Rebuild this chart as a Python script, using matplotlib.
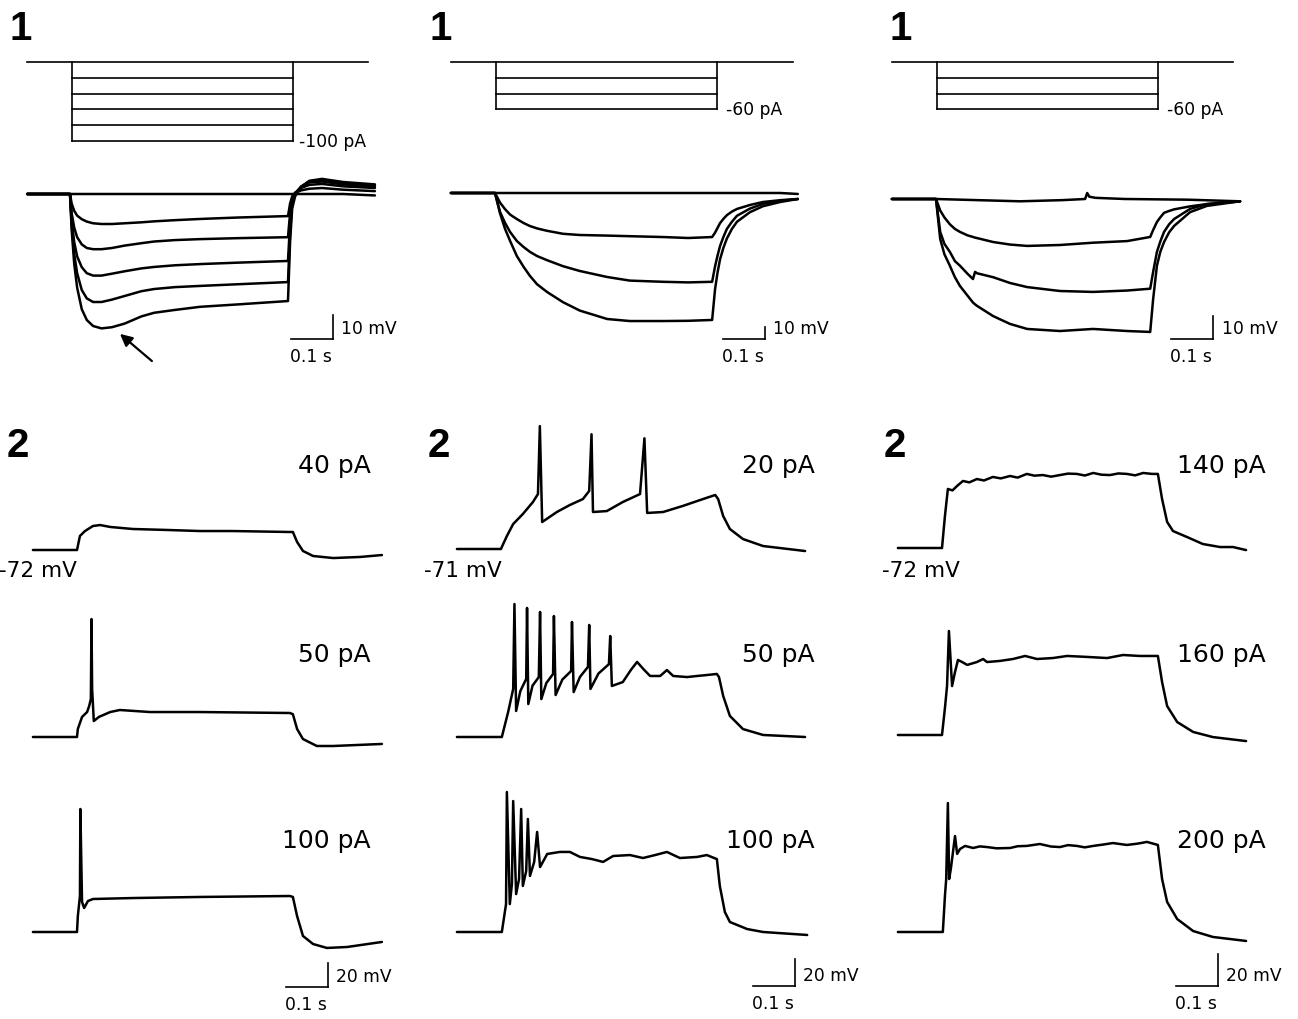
import matplotlib
matplotlib.use("Agg")
import matplotlib.pyplot as plt

# ---------------------------------------------------------------- data
# current steps (pA)
stim_levels_c1 = [0, -20, -40, -60, -80, -100]
stim_levels_c23 = [0, -20, -40, -60]
stim_dur = 0.527  # s

# --- column 1, hyperpolarising responses (mV from rest)
c1_top_t = [-0.102, 0, 0.004, 0.01, 0.017, 0.028, 0.04, 0.055, 0.075, 0.1, 0.13, 0.17, 0.2,
            0.25, 0.31, 0.4, 0.519, 0.524, 0.529, 0.536, 0.55, 0.57, 0.6, 0.65, 0.726]
c1_top_0 = [0] * 24 + [-0.6]
c1_top_1 = [0, 0, -4, -7, -9, -10.5, -11.5, -12.2, -12.5, -12.5, -12.2, -11.8, -11.4,
            -10.9, -10.4, -9.8, -9.2, -4, -1, 0.5, 1.5, 2.2, 2.5, 1.8, 1.2]
c1_top_2 = [0, 0, -8, -14, -18, -21, -22.5, -23, -23, -22.5, -21.5, -20.5, -19.8,
            -19.2, -18.8, -18.4, -18, -8, -2, 0.5, 2.5, 3.8, 4.2, 3.2, 2.5]
c1_top_3 = [0, 0, -11, -20, -26, -30.5, -33, -34, -34, -33.2, -32.2, -31, -30.4,
            -29.7, -29.2, -28.6, -27.9, -12, -3, 0.3, 3, 4.8, 5.2, 4, 3.2]
c1_top_4 = [0, 0, -13, -25, -33, -40, -43.5, -45, -45, -44, -42.5, -40.5, -39.6,
            -38.8, -38.3, -37.6, -36.7, -16, -4, 0, 3, 5.3, 5.8, 4.5, 3.6]
c1_top_5 = [0, 0, -15, -29, -39, -48, -52.5, -55, -56, -55.5, -54, -51, -49.5,
            -48.3, -47, -46, -44.6, -20, -6, -1, 3, 5.5, 6.3, 5, 4]

# --- column 2, hyperpolarising responses
c2_top_t = [-0.105, 0, 0.012, 0.024, 0.036, 0.052, 0.068, 0.083, 0.1, 0.124, 0.162, 0.202,
            0.267, 0.321, 0.4, 0.46, 0.517, 0.524, 0.53, 0.536, 0.544, 0.552, 0.564,
            0.576, 0.607, 0.638, 0.679, 0.721]
c2_top_0 = [0] * 27 + [-0.8]
c2_top_1 = [0, 0, -8, -13.5, -18, -21.7, -25, -27.5, -29.5, -31.5, -34, -35,
            -35.5, -36, -36.7, -37.5, -36.7, -33, -29, -25, -21.5, -18.5, -15.5,
            -13.3, -10, -7.5, -6, -5]
c2_top_2 = [0, 0, -15.8, -25, -32.5, -40, -45, -49, -52.5, -56, -61, -65,
            -70, -73, -74, -74.5, -74, -61, -52, -44, -36.5, -30, -24,
            -19, -13, -9, -6.5, -5]
c2_top_3 = [0, 0, -17, -30, -40, -52.5, -61.5, -69, -76, -82.5, -91, -98,
            -105, -106.7, -106.7, -106.5, -105.8, -80, -66, -55, -45.5, -38, -30,
            -24, -16, -11, -7.5, -5]

# --- column 3, hyperpolarising responses
c3_top_t = [-0.105, 0, 0.01, 0.02, 0.033, 0.045, 0.057, 0.075, 0.088, 0.093, 0.098, 0.136,
            0.176, 0.217, 0.295, 0.374, 0.455, 0.51, 0.517, 0.526, 0.534, 0.543, 0.555,
            0.567, 0.605, 0.645, 0.724]
c3_top_1 = [0, 0, -5, -8, -11, -13, -14.3, -15.8, -16.5, -16.8, -17, -18.7,
            -19.8, -20.4, -20, -19, -18.3, -16.5, -13.5, -10, -8, -6, -5.2,
            -4.5, -3.2, -2.2, -1]
c3_top_2 = [0, 0, -14.3, -19.5, -23, -27, -29, -32.5, -34.8, -31.7, -32.3, -34,
            -36.5, -38.3, -40, -40.4, -39.8, -39, -31.7, -23, -18.5, -14.3, -11,
            -8.7, -4.3, -2.2, -1]
c3_top_3 = [0, 0, -17.4, -24, -29, -34, -37.8, -42, -45, -45.8, -46.5, -50.9,
            -54.3, -56.5, -57.4, -56.5, -57.4, -57.8, -43.5, -29, -23, -18.7, -14.5,
            -11.7, -5.7, -3, -1]
c3_flat_t = [-0.105, 0, 0.1, 0.2, 0.3, 0.355, 0.36, 0.365, 0.38, 0.45, 0.6, 0.724]
c3_flat_v = [0, 0, -0.5, -1, -0.5, 0, 2.6, 1, 0.5, 0, -0.3, -1]

# --- depolarising steps, column 1 (rest -72 mV)
c1_rest = -72
c1r1_t = [-0.105, 0, 0.007, 0.019, 0.038, 0.055, 0.079, 0.133, 0.214, 0.293, 0.371, 0.507,
          0.514, 0.524, 0.538, 0.562, 0.61, 0.674, 0.726]
c1r1_v = [0, 0, 11.7, 15.8, 20, 20.8, 19.2, 17.5, 16.7, 15.8, 15.8, 15,
          15, 6.7, -0.8, -5, -6.7, -5.8, -4.2]
c1r2_t = [-0.105, 0, 0.002, 0.012, 0.024, 0.029, 0.033, 0.0345, 0.036, 0.040, 0.052, 0.079,
          0.102, 0.174, 0.293, 0.507, 0.514, 0.524, 0.538, 0.571, 0.61, 0.726]
c1r2_v = [0, 0, 6.7, 16.7, 20.8, 25.8, 31.7, 98.3, 40, 13.3, 16.7, 20.8,
          22.5, 20.8, 20.8, 20, 19, 6.7, -1.7, -7.5, -7.5, -5.8]
c1r3_t = [-0.105, 0, 0.002, 0.007, 0.008, 0.012, 0.017, 0.026, 0.038, 0.133, 0.293, 0.507,
          0.514, 0.524, 0.538, 0.562, 0.595, 0.643, 0.726]
c1r3_v = [0, 0, 13.3, 30, 102.5, 25, 20, 25.8, 27.5, 28.3, 29.2, 30,
          29.2, 13.3, -3.3, -10, -13.3, -12.5, -8.3]

# --- depolarising steps, column 2 (rest -71 mV)
c2_rest = -71
c2r1_t = [-0.105, 0, 0.002, 0.014, 0.029, 0.052, 0.076, 0.088, 0.0925, 0.098, 0.133, 0.164,
          0.195, 0.21, 0.2155, 0.219, 0.252, 0.29, 0.331, 0.3415, 0.348, 0.386, 0.433,
          0.481, 0.51, 0.517, 0.529, 0.545, 0.576, 0.624, 0.724]
c2r1_v = [0, 0, 1.5, 9.6, 18.5, 25.9, 34.8, 40.7, 91, 20, 27.4, 32.6,
          37, 43, 85, 27.4, 28.1, 34.8, 40.7, 82, 26.7, 27.4, 31.9,
          37, 40, 37, 24.4, 14.8, 7.4, 2.2, -1.5]
c2r2_t = [-0.105, 0, 0.002, 0.017, 0.029, 0.032, 0.036, 0.046, 0.06, 0.062, 0.065, 0.075,
          0.09, 0.093, 0.096, 0.108, 0.124, 0.126, 0.13, 0.146, 0.167, 0.169, 0.173,
          0.188, 0.207, 0.21, 0.213, 0.232, 0.257, 0.26, 0.264, 0.29, 0.31, 0.324, 0.34,
          0.355, 0.379, 0.395, 0.41, 0.443, 0.467, 0.49, 0.514, 0.519, 0.529, 0.545,
          0.576, 0.624, 0.724]
c2r2_v = [0, 0, 0, 18.5, 35.6, 98.5, 19.3, 34, 43, 95.6, 24.4, 38,
          44.4, 92.6, 28.1, 40, 46.7, 89.6, 31.1, 42.5, 48.9, 85.2, 33.3,
          44.5, 51.9, 83, 35.6, 47, 54, 74.8, 37.8, 40.7, 50, 55.6, 50,
          45.2, 45.2, 49.6, 45.2, 44.4, 45.2, 45.9, 46.7, 44.4, 30.4, 15.6,
          5.9, 1.5, 0]
c2r3_t = [-0.105, 0, 0.002, 0.012, 0.014, 0.021, 0.026, 0.029, 0.036, 0.043, 0.048, 0.052,
          0.06, 0.064, 0.069, 0.079, 0.086, 0.093, 0.11, 0.14, 0.164, 0.188, 0.217,
          0.243, 0.267, 0.307, 0.338, 0.367, 0.395, 0.426, 0.467, 0.49, 0.514, 0.521,
          0.533, 0.545, 0.586, 0.624, 0.729]
c2r3_v = [0, 0, 0, 20.7, 103.7, 20.7, 35.6, 97, 28.1, 39.3, 91.1, 34.1,
          45.2, 83.7, 41.5, 51.9, 74.1, 48.1, 57.8, 59.3, 59.3, 55.6, 54,
          51.9, 56.3, 57, 54.8, 57, 59.3, 54.8, 55.6, 57, 54, 34.1,
          14.8, 7.4, 2.2, 0, -2.2]

# --- depolarising steps, column 3 (rest -72 mV)
c3_rest = -72
c3r1_t = [-0.105, 0, 0.007, 0.014, 0.025, 0.036, 0.05, 0.065, 0.083, 0.1, 0.121, 0.14,
          0.162, 0.18, 0.202, 0.22, 0.24, 0.26, 0.281, 0.3, 0.321, 0.34, 0.36, 0.38,
          0.4, 0.42, 0.44, 0.46, 0.479, 0.5, 0.514, 0.524, 0.536, 0.55, 0.583, 0.621,
          0.662, 0.693, 0.724]
c3r1_v = [0, 0, 20, 36.9, 36, 38.8, 41.9, 41, 43.1, 42.2, 44.4, 43.5,
          45, 44, 46.3, 45.2, 45.6, 44.6, 45.6, 46.5, 46.3, 45.3, 46.9, 45.8,
          45.6, 46.6, 46.3, 45.4, 46.9, 46.3, 46.3, 30.6, 16.3, 10.6, 6.9, 2.5,
          0.6, 0.6, -1.3]
c3r2_t = [-0.105, 0, 0.007, 0.012, 0.0165, 0.024, 0.031, 0.038, 0.048, 0.06, 0.083, 0.098,
          0.107, 0.138, 0.169, 0.198, 0.226, 0.264, 0.298, 0.345, 0.393, 0.431, 0.471,
          0.514, 0.524, 0.536, 0.56, 0.598, 0.645, 0.724]
c3r2_v = [0, 0, 16.9, 30.6, 65, 30.6, 39.4, 46.9, 45.6, 43.8, 45.6, 47.5,
          45.6, 46.3, 47.5, 49.4, 47.5, 48.1, 49.4, 48.8, 48.1, 50, 49.4,
          49.4, 33.1, 18.1, 8.1, 1.9, -1.3, -3.8]
c3r3_t = [-0.105, 0, 0.002, 0.007, 0.01, 0.014, 0.017, 0.021, 0.031, 0.036, 0.043, 0.055,
          0.074, 0.09, 0.107, 0.13, 0.162, 0.18, 0.202, 0.233, 0.26, 0.281, 0.3, 0.321,
          0.34, 0.36, 0.385, 0.407, 0.44, 0.465, 0.488, 0.514, 0.524, 0.536, 0.56,
          0.598, 0.645, 0.724]
c3r3_v = [0, 0, 0, 22.5, 33.1, 80.6, 33.1, 39.4, 60, 48.8, 51.9, 53.8,
          52.5, 53.5, 53.1, 52.3, 52.5, 53.6, 53.8, 55, 53.4, 53.1, 54.3, 53.8,
          52.9, 53.8, 54.7, 55.6, 54.4, 55.2, 56.3, 54.4, 33.1, 18.8, 8.1,
          0.6, -3.1, -5.6]

step_labels = [["40 pA", "50 pA", "100 pA"],
               ["20 pA", "50 pA", "100 pA"],
               ["140 pA", "160 pA", "200 pA"]]

# ---------------------------------------------------------------- layout
W, H = 1298, 1020
PX_PER_S = 420.0
LW = 1.8
SMALL = dict(family="DejaVu Sans", fontsize=12.3)
BIG = dict(family="DejaVu Sans", fontsize=18)
NUM = dict(family="Liberation Sans", fontsize=29, fontweight="bold")

fig = plt.figure(figsize=(W / 100, H / 100), dpi=100)
fig.patch.set_facecolor("white")


def px_axes(box, x0, y0, sy, ref=0.0):
    # axes over a pixel box; t=0 at pixel x0, value `ref` at pixel y0
    left, top, right, bottom = box
    ax = fig.add_axes([left / W, 1 - bottom / H, (right - left) / W, (bottom - top) / H])
    ax.set_xlim((left - x0) / PX_PER_S, (right - x0) / PX_PER_S)
    ax.set_ylim(ref + (y0 - bottom) / sy, ref + (y0 - top) / sy)
    ax.axis("off")
    return ax


def trace(ax, t, v, offset=0.0):
    ax.plot(t, [offset + x for x in v], color="k", lw=LW, clip_on=False,
            solid_joinstyle="round", solid_capstyle="round")


def stim(ax, levels, t0, t1, gap):
    kw = dict(color="k", lw=1.2, clip_on=False)
    ax.plot([t0, t1], [0, 0], **kw)
    for lv in levels[1:]:
        ax.plot([0, stim_dur], [lv, lv], **kw)
    ax.plot([0, 0], [0, levels[-1]], **kw)
    ax.plot([stim_dur, stim_dur], [0, levels[-1]], **kw)
    ax.annotate(f"-{abs(levels[-1])} pA", xy=(stim_dur, levels[-1]), xytext=(gap, 0),
                textcoords="offset points", va="center", ha="left", **SMALL)


def scalebar(ax, t, v, mv):
    kw = dict(color="k", lw=1.2, clip_on=False)
    ax.plot([t - 0.1, t], [v, v], **kw)
    ax.plot([t, t], [v, v + mv], **kw)
    ax.annotate(f"{mv} mV", xy=(t, v), xytext=(6, 8), textcoords="offset points",
                va="center", ha="left", **SMALL)
    ax.annotate("0.1 s", xy=(t - 0.1, v), xytext=(-1, -12), textcoords="offset points",
                va="center", ha="left", **SMALL)


def ftext(x, y, s, **kw):
    fig.text(x / W, 1 - y / H, s, **kw)


# stimulus protocols
STIM_SY = 0.79  # px per pA
a = px_axes((0, 40, 430, 170), 72, 63, STIM_SY)
stim(a, stim_levels_c1, -0.107, 0.705, 4)
a = px_axes((430, 40, 860, 170), 496, 63, STIM_SY)
stim(a, stim_levels_c23, -0.107, 0.707, 6.5)
a = px_axes((860, 40, 1298, 170), 937, 63, STIM_SY)
stim(a, stim_levels_c23, -0.107, 0.705, 6.5)

# hyperpolarising responses
a = px_axes((0, 160, 430, 390), 70, 195, 2.4)
for v in [c1_top_0, c1_top_1, c1_top_2, c1_top_3, c1_top_4, c1_top_5]:
    trace(a, c1_top_t, v)
scalebar(a, 0.626, -60.4, 10)
a.annotate("", xy=(0.119, -58.3), xytext=(0.195, -69.6),
           arrowprops=dict(arrowstyle="-|>", lw=1.6, color="k", mutation_scale=18,
                           shrinkA=0, shrinkB=0))

a = px_axes((430, 160, 860, 390), 495, 194, 1.2)
for v in [c2_top_0, c2_top_1, c2_top_2, c2_top_3]:
    trace(a, c2_top_t, v)
scalebar(a, 0.643, -121.7, 10)

a = px_axes((860, 160, 1298, 390), 936, 200, 2.3)
trace(a, c3_flat_t, c3_flat_v)
for v in [c3_top_1, c3_top_2, c3_top_3]:
    trace(a, c3_top_t, v)
scalebar(a, 0.66, -60.9, 10)

# depolarising steps
columns = [
    dict(box=(0, 430), x0=77, rest=c1_rest, sy=1.2, bases=[551, 738, 933],
         rows=[(c1r1_t, c1r1_v), (c1r2_t, c1r2_v), (c1r3_t, c1r3_v)],
         bar=(0.598, -45.8), label_r=371, mv_r=77),
    dict(box=(430, 860), x0=501, rest=c2_rest, sy=1.35, bases=[550, 738, 933],
         rows=[(c2r1_t, c2r1_v), (c2r2_t, c2r2_v), (c2r3_t, c2r3_v)],
         bar=(0.70, -40.0), label_r=815, mv_r=502),
    dict(box=(860, 1298), x0=942, rest=c3_rest, sy=1.6, bases=[549, 736, 933],
         rows=[(c3r1_t, c3r1_v), (c3r2_t, c3r2_v), (c3r3_t, c3r3_v)],
         bar=(0.657, -33.75), label_r=1266, mv_r=960),
]
row_boxes = [(400, 600), (600, 780), (780, 1020)]
label_y = [466, 655, 841]

for ci, col in enumerate(columns):
    for ri, (t, v) in enumerate(col["rows"]):
        top, bottom = row_boxes[ri]
        a = px_axes((col["box"][0], top, col["box"][1], bottom), col["x0"],
                    col["bases"][ri], col["sy"], ref=col["rest"])
        trace(a, t, v, offset=col["rest"])
        ftext(col["label_r"], label_y[ri], step_labels[ci][ri], ha="right", va="center", **BIG)
        if ri == 2:
            scalebar(a, col["bar"][0], col["rest"] + col["bar"][1], 20)
    ftext(col["mv_r"], 571, f"{col['rest']} mV", ha="right", va="center",
          family="DejaVu Sans", fontsize=15.5)

# panel numbers
for x in [9, 429, 889]:
    ftext(x, 29, "1", ha="left", va="center", **NUM)
for x in [7, 428, 884]:
    ftext(x, 446, "2", ha="left", va="center", **NUM)

fig.savefig("out.png", dpi=100, facecolor="white")
